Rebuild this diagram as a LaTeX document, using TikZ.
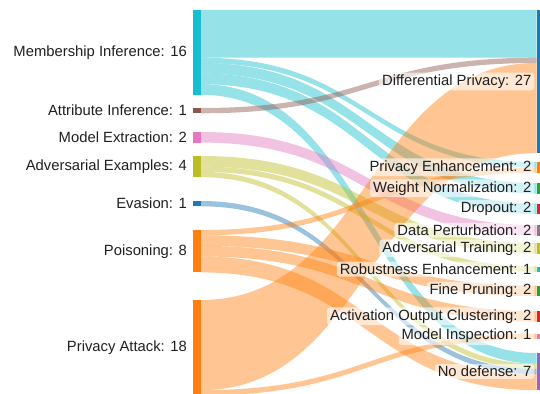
\documentclass[tikz,border=0pt]{standalone}
\usepackage{fontspec}
\setmainfont{Liberation Sans}
\usetikzlibrary{calc,positioning}

\definecolor{tblue}{HTML}{1F77B4}
\definecolor{torange}{HTML}{FF7F0E}
\definecolor{tgreen}{HTML}{2CA02C}
\definecolor{tred}{HTML}{D62728}
\definecolor{tpurple}{HTML}{9467BD}
\definecolor{tbrown}{HTML}{8C564B}
\definecolor{tpink}{HTML}{E377C2}
\definecolor{tgray}{HTML}{7F7F7F}
\definecolor{tolive}{HTML}{BCBD22}
\definecolor{tcyan}{HTML}{17BECF}

\tikzset{
  bar/.style={rectangle, inner sep=0pt, outer sep=0pt, minimum width=8pt, anchor=north west},
  lab/.style={font=\fontsize{14.8}{16}\selectfont, text=black!88, inner sep=0pt},
  rlab/.style={lab, fill=white, fill opacity=0.6, text opacity=1, rounded corners=3pt, inner xsep=3pt, inner ysep=2pt},
  flowfill/.style={fill=#1, fill opacity=0.45}
}

% one unit of a flow, in px
\newcommand{\flowunit}{5.3}
% source, offset at source, target, offset at target, value, colour
\newcommand{\sflow}[6]{%
  \fill[flowfill=#6] let \p1=(#1.north east), \p2=(#3.north west) in
    (\x1,{\y1-#2*\flowunit pt}) .. controls ({(\x1+\x2)/2},{\y1-#2*\flowunit pt}) and ({(\x1+\x2)/2},{\y2-#4*\flowunit pt}) .. (\x2,{\y2-#4*\flowunit pt})
    -- (\x2,{\y2-(#4+#5)*\flowunit pt}) .. controls ({(\x1+\x2)/2},{\y2-(#4+#5)*\flowunit pt}) and ({(\x1+\x2)/2},{\y1-(#2+#5)*\flowunit pt}) .. (\x1,{\y1-(#2+#5)*\flowunit pt}) -- cycle;}

\begin{document}
\begin{tikzpicture}[x=1pt,y=-1pt]
\useasboundingbox (0,0) rectangle (540,393);

%attacks
\node[bar, fill=tcyan, minimum height={16*\flowunit pt}] (mi) at (193,10) {};
\node[bar, fill=tbrown, minimum height={1*\flowunit pt}] (ai) at (193,108) {};
\node[bar, fill=tpink, minimum height={2*\flowunit pt}] (me) at (193,132) {};
\node[bar, fill=tolive, minimum height={4*\flowunit pt}] (ae) at (193,156) {};
\node[bar, fill=tblue, minimum height={1*\flowunit pt}] (ev) at (193,201) {};
\node[bar, fill=torange, minimum height={8*\flowunit pt}] (po) at (193,230) {};
\node[bar, fill=torange, minimum height={18*\flowunit pt}] (pa) at (193,300) {};

%defenses
\node[bar, fill=tblue, minimum height={27*\flowunit pt}] (dp) at (536.5,10) {};
\node[bar, fill=torange, minimum height={2*\flowunit pt}] (pe) at (536.5,162) {};
\node[bar, fill=tgreen, minimum height={2*\flowunit pt}] (wn) at (536.5,183) {};
\node[bar, fill=tred, minimum height={2*\flowunit pt}] (dr) at (536.5,203.5) {};
\node[bar, fill=tgray, minimum height={2*\flowunit pt}] (dap) at (536.5,225) {};
\node[bar, fill=tolive, minimum height={2*\flowunit pt}] (at) at (536.5,243) {};
\node[bar, fill=tcyan, minimum height={1*\flowunit pt}] (re) at (536.5,266.5) {};
\node[bar, fill=tgreen, minimum height={2*\flowunit pt}] (fp) at (536.5,285.5) {};
\node[bar, fill=tred, minimum height={2*\flowunit pt}] (aoc) at (536.5,311) {};
\node[bar, fill=tpink, minimum height={1*\flowunit pt}] (mn) at (536.5,333.5) {};
\node[bar, fill=tpurple, minimum height={7*\flowunit pt}] (nd) at (536.5,353) {};

%flows
\sflow{mi}{0}{dp}{0}{9}{tcyan}
\sflow{mi}{9}{pe}{0}{1}{tcyan}
\sflow{mi}{10}{wn}{0}{2}{tcyan}
\sflow{mi}{12}{dr}{0}{2}{tcyan}
\sflow{mi}{14}{nd}{0}{2}{tcyan}
\sflow{ai}{0}{dp}{9}{1}{tbrown}
\sflow{me}{0}{dap}{0}{2}{tpink}
\sflow{ae}{0}{at}{0}{2}{tolive}
\sflow{ae}{2}{re}{0}{1}{tolive}
\sflow{ae}{3}{nd}{2}{1}{tolive}
\sflow{ev}{0}{nd}{3}{1}{tblue}
\sflow{po}{0}{pe}{1}{1}{torange}
\sflow{po}{1}{fp}{0}{2}{torange}
\sflow{po}{3}{aoc}{0}{2}{torange}
\sflow{po}{5}{nd}{4}{3}{torange}
\sflow{pa}{0}{dp}{10}{17}{torange}
\sflow{pa}{17}{mn}{0}{1}{torange}

%labels
\node[lab, left=6pt of mi] (mil) {Membership Inference: 16};
\node[lab, left=6pt of ai] (ail) {Attribute Inference: 1};
\node[lab, left=6pt of me] (mel) {Model Extraction: 2};
\node[lab, left=6pt of ae] (ael) {Adversarial Examples: 4};
\node[lab, left=6pt of ev] (evl) {Evasion: 1};
\node[lab, left=6pt of po] (pol) {Poisoning: 8};
\node[lab, left=6pt of pa] (pal) {Privacy Attack: 18};

\node[rlab, left=2pt of dp] (dpl) {Differential Privacy: 27};
\node[rlab, left=2pt of pe] (pel) {Privacy Enhancement: 2};
\node[rlab, left=2pt of wn] (wnl) {Weight Normalization: 2};
\node[rlab, left=2pt of dr] (drl) {Dropout: 2};
\node[rlab, left=2pt of dap] (dapl) {Data Perturbation: 2};
\node[rlab, left=2pt of at] (atl) {Adversarial Training: 2};
\node[rlab, left=2pt of re] (rel) {Robustness Enhancement: 1};
\node[rlab, left=2pt of fp] (fpl) {Fine Pruning: 2};
\node[rlab, left=2pt of aoc] (aocl) {Activation Output Clustering: 2};
\node[rlab, left=2pt of mn] (mnl) {Model Inspection: 1};
\node[rlab, left=2pt of nd] (ndl) {No defense: 7};
\end{tikzpicture}
\end{document}
